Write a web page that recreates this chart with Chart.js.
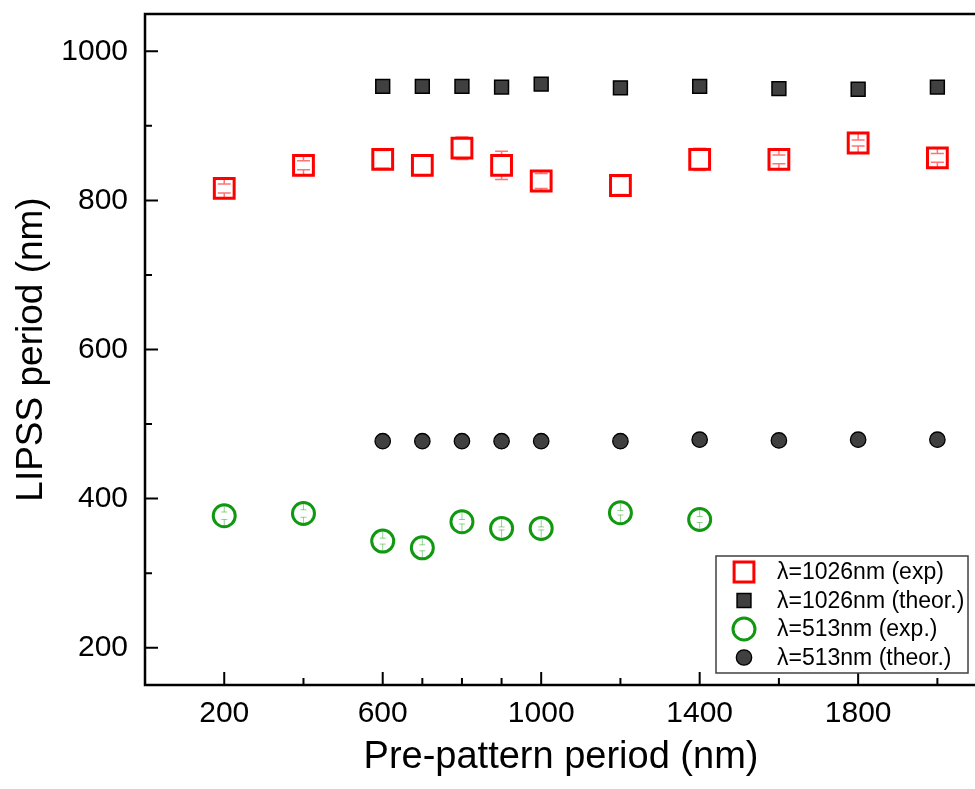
<!DOCTYPE html>
<html>
<head>
<meta charset="utf-8">
<script src="https://cdn.jsdelivr.net/npm/chart.js@4.4.1/dist/chart.umd.min.js"></script>
<style>
  html, body { margin: 0; padding: 0; background: #fff; overflow: hidden; }
  #wrap { width: 980px; height: 789px; }
</style>
</head>
<body>
<div id="wrap"><canvas id="chart" width="980" height="789"></canvas></div>
<script>
// pre-pattern periods (nm)
const xExp1026 = [200, 400, 600, 700, 800, 900, 1000, 1200, 1400, 1600, 1800, 2000];
const yExp1026 = [816, 847, 855, 847, 870, 847, 826, 820, 855, 855, 877, 857];
const errExp1026 = [6, 6, 12, 14, 15, 19, 10, 12, 15, 6, 4, 6];

const xTheo1026 = [600, 700, 800, 900, 1000, 1200, 1400, 1600, 1800, 2000];
const yTheo1026 = [953, 953, 953, 952, 956, 951, 953, 950, 949, 952];

const xExp513 = [200, 400, 600, 700, 800, 900, 1000, 1200, 1400];
const yExp513 = [377, 380, 343, 334, 369, 360, 360, 381, 372];
const errExp513 = [5, 5, 4, 4, 3, 2, 2, 3, 4];

const xTheo513 = [600, 700, 800, 900, 1000, 1200, 1400, 1600, 1800, 2000];
const yTheo513 = [477, 477, 477, 477, 477, 477, 479, 478, 479, 479];

const seriesLabels = ['λ=1026nm (exp)', 'λ=1026nm (theor.)', 'λ=513nm (exp.)', 'λ=513nm (theor.)'];

// tick positions: labelled majors, unlabelled minors
const xMajorTicks = [200, 600, 1000, 1400, 1800];
const xMinorTicks = [400, 700, 800, 900, 1200, 1600, 2000];
const yMajorTicks = [200, 400, 600, 800, 1000];
const yMinorTicks = [300, 500, 700, 900];

const FONT = 'Arial, "Liberation Sans", sans-serif';
const RED = '#ff0000';
const GREEN = '#109810';
const DARK = '#404040';

const pts = (xs, ys) => xs.map((x, i) => ({ x, y: ys[i] }));

function setTicks(major, minor) {
  return scale => {
    scale.ticks = major.map(v => ({ value: v, major: true }))
      .concat(minor.map(v => ({ value: v, major: false })))
      .sort((a, b) => a.value - b.value);
  };
}

const frameTicks = {
  id: 'frameTicks',
  afterDraw(chart) {
    const { ctx, chartArea: a, scales } = chart;
    ctx.save();
    ctx.strokeStyle = '#000';
    ctx.lineWidth = 2.5;
    ctx.strokeRect(a.left, a.top, a.right - a.left, a.bottom - a.top);
    ctx.lineWidth = 2;
    ctx.beginPath();
    scales.x.ticks.forEach(t => {
      const px = scales.x.getPixelForValue(t.value);
      const len = t.major ? 13 : 7;
      ctx.moveTo(px, a.bottom);
      ctx.lineTo(px, a.bottom - len);
    });
    scales.y.ticks.forEach(t => {
      const py = scales.y.getPixelForValue(t.value);
      const len = t.major ? 13 : 7;
      ctx.moveTo(a.left, py);
      ctx.lineTo(a.left + len, py);
    });
    ctx.stroke();
    ctx.restore();
  }
};

// Origin-style error bars: stem runs from symbol edge to the cap
const errorBars = {
  id: 'errorBars',
  afterDatasetsDraw(chart) {
    const { ctx, scales } = chart;
    chart.data.datasets.forEach((ds, di) => {
      if (!ds.errors) return;
      const meta = chart.getDatasetMeta(di);
      const half = ds.pointStyle === 'rect' ? ds.pointRadius * Math.SQRT1_2 : ds.pointRadius;
      ctx.save();
      ctx.strokeStyle = ds.errColor;
      ctx.lineWidth = ds.errWidth;
      ctx.beginPath();
      meta.data.forEach((el, i) => {
        const v = ds.data[i].y, e = ds.errors[i];
        const yc = el.y;
        const yt = scales.y.getPixelForValue(v + e);
        const yb = scales.y.getPixelForValue(v - e);
        const w = ds.capWidth / 2;
        ctx.moveTo(el.x, yc - half); ctx.lineTo(el.x, yt);
        ctx.moveTo(el.x, yc + half); ctx.lineTo(el.x, yb);
        ctx.moveTo(el.x - w, yt); ctx.lineTo(el.x + w, yt);
        ctx.moveTo(el.x - w, yb); ctx.lineTo(el.x + w, yb);
      });
      ctx.stroke();
      ctx.restore();
    });
  }
};

const boxLegend = {
  id: 'boxLegend',
  afterDraw(chart) {
    const { ctx } = chart;
    const box = { x: 716, y: 556, w: 252, h: 117 };
    ctx.save();
    ctx.fillStyle = '#fff';
    ctx.fillRect(box.x, box.y, box.w, box.h);
    ctx.strokeStyle = '#404040';
    ctx.lineWidth = 1.5;
    ctx.strokeRect(box.x, box.y, box.w, box.h);
    ctx.font = '23px ' + FONT;
    ctx.textBaseline = 'middle';
    chart.data.datasets.forEach((ds, i) => {
      const cy = box.y + 16 + i * 28.5;
      ctx.fillStyle = ds.backgroundColor;
      ctx.strokeStyle = ds.borderColor;
      ctx.lineWidth = ds.borderWidth;
      Chart.helpers.drawPoint(ctx, {
        pointStyle: ds.pointStyle, radius: ds.pointRadius, borderWidth: ds.borderWidth, rotation: 0
      }, box.x + 28, cy);
      ctx.fillStyle = '#000';
      ctx.fillText(ds.label, box.x + 61, cy + 1);
    });
    ctx.restore();
  }
};

new Chart(document.getElementById('chart'), {
  type: 'scatter',
  data: {
    datasets: [
      {
        label: seriesLabels[0], data: pts(xExp1026, yExp1026), errors: errExp1026,
        pointStyle: 'rect', pointRadius: 14, borderWidth: 3,
        borderColor: RED, backgroundColor: '#fff',
        errColor: 'rgba(255,0,0,0.55)', errWidth: 1.5, capWidth: 13
      },
      {
        label: seriesLabels[1], data: pts(xTheo1026, yTheo1026),
        pointStyle: 'rect', pointRadius: 9.8, borderWidth: 1.5,
        borderColor: '#000', backgroundColor: DARK
      },
      {
        label: seriesLabels[2], data: pts(xExp513, yExp513), errors: errExp513,
        pointStyle: 'circle', pointRadius: 11, borderWidth: 3,
        borderColor: GREEN, backgroundColor: '#fff',
        errColor: 'rgba(16,152,16,0.45)', errWidth: 1, capWidth: 6
      },
      {
        label: seriesLabels[3], data: pts(xTheo513, yTheo513),
        pointStyle: 'circle', pointRadius: 7.7, borderWidth: 1.3,
        borderColor: '#000', backgroundColor: DARK
      }
    ]
  },
  options: {
    responsive: false,
    animation: false,
    devicePixelRatio: 1,
    layout: { autoPadding: false, padding: { top: 14, right: 3, left: 0, bottom: 0 } },
    plugins: { legend: { display: false }, tooltip: { enabled: false } },
    scales: {
      x: {
        type: 'linear', min: 0, max: 2100, offset: false,
        afterBuildTicks: setTicks(xMajorTicks, xMinorTicks),
        afterFit(s) { s.height = 104; s.paddingLeft = 0; s.paddingRight = 0; },
        grid: { display: false, drawTicks: false },
        border: { display: false },
        ticks: {
          autoSkip: false, maxRotation: 0, padding: 11, color: '#000',
          font: { family: FONT, size: 30 },
          callback: (v, i, ticks) => ticks[i].major ? String(v) : ''
        },
        title: {
          display: true, text: 'Pre-pattern period (nm)', color: '#000',
          font: { family: FONT, size: 38, lineHeight: 1 },
          padding: { top: 0, bottom: 12 }
        }
      },
      y: {
        type: 'linear', min: 150, max: 1050,
        afterBuildTicks: setTicks(yMajorTicks, yMinorTicks),
        afterFit(s) { s.width = 145; s.paddingTop = 0; s.paddingBottom = 0; },
        grid: { display: false, drawTicks: false },
        border: { display: false },
        ticks: {
          autoSkip: false, padding: 17, color: '#000',
          font: { family: FONT, size: 30 },
          callback: (v, i, ticks) => ticks[i].major ? String(v) : ''
        },
        title: {
          display: true, text: 'LIPSS period (nm)', color: '#000',
          font: { family: FONT, size: 37, lineHeight: 1 },
          padding: { top: 13, bottom: 0 }
        }
      }
    }
  },
  plugins: [errorBars, frameTicks, boxLegend]
});
</script>
</body>
</html>
